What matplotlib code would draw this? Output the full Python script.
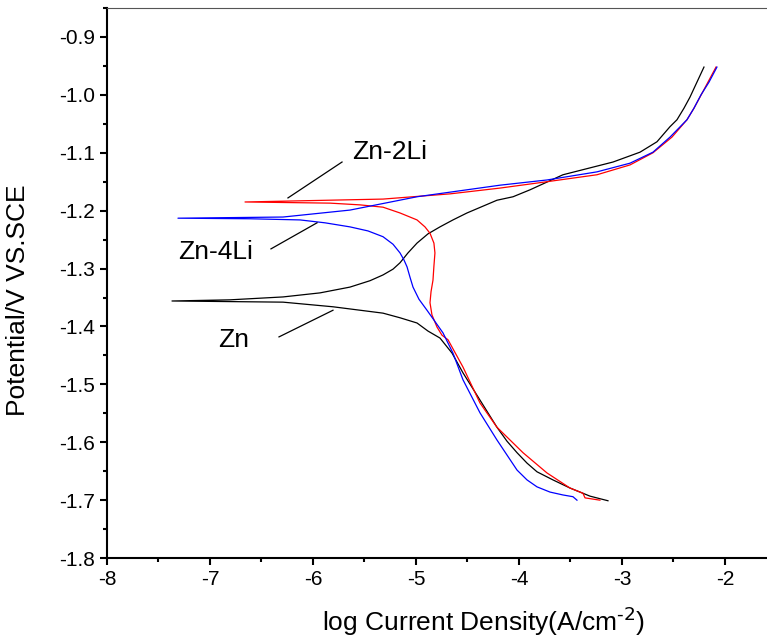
import matplotlib
matplotlib.use('Agg')
import matplotlib.pyplot as plt
from matplotlib.ticker import MultipleLocator, FormatStrFormatter

plt.rcParams['font.family'] = ['Liberation Sans', 'DejaVu Sans']
plt.rcParams['axes.unicode_minus'] = False
plt.rcParams['mathtext.default'] = 'regular'

# Zn: cathodic end -> Ecorr -> anodic end
zn_x = [-3.136, -3.311, -3.505, -3.670, -3.825, -3.922, -4.019, -4.117, -4.214,
        -4.379, -4.544, -4.650, -4.767,
        -4.883, -4.990, -5.155, -5.320, -5.806, -6.291, -7.369,
        -6.806, -6.291, -5.932, -5.641, -5.447, -5.320, -5.223, -5.155, -5.078,
        -4.990, -4.883, -4.767, -4.641, -4.505, -4.214, -4.058, -3.893,
        -3.573, -3.087, -2.825, -2.660, -2.534, -2.466, -2.398, -2.340, -2.272,
        -2.204]
zn_y = [-1.701, -1.693, -1.679, -1.665, -1.651, -1.636, -1.618, -1.598, -1.574,
        -1.527, -1.480, -1.446, -1.420,
        -1.408, -1.394, -1.385, -1.377, -1.366, -1.358, -1.356,
        -1.354, -1.349, -1.342, -1.332, -1.321, -1.311, -1.301, -1.290, -1.273,
        -1.256, -1.240, -1.228, -1.216, -1.204, -1.182, -1.176, -1.164,
        -1.138, -1.116, -1.099, -1.081, -1.055, -1.043, -1.023, -1.004, -0.978,
        -0.952]

# Zn-2Li
zn2_x = [-3.214, -3.359, -3.379, -3.505, -3.728, -3.961, -4.214, -4.379, -4.544,
         -4.689, -4.748, -4.796, -4.845, -4.864, -4.854, -4.835, -4.826, -4.816,
         -4.826, -4.864, -4.913, -4.990, -5.155, -5.320, -5.544, -5.835, -6.660,
         -6.126, -5.320, -4.670, -4.184, -3.728, -3.243, -2.922, -2.699, -2.515,
         -2.369, -2.301, -2.243, -2.165, -2.087]
zn2_y = [-1.700, -1.696, -1.688, -1.679, -1.653, -1.618, -1.574, -1.532, -1.470,
         -1.423, -1.415, -1.401, -1.380, -1.359, -1.340, -1.320, -1.296, -1.273,
         -1.256, -1.239, -1.228, -1.216, -1.204, -1.194, -1.190, -1.187, -1.185,
         -1.183, -1.180, -1.171, -1.161, -1.150, -1.138, -1.121, -1.100, -1.073,
         -1.043, -1.023, -1.004, -0.978, -0.952]

# Zn-4Li
zn4_x = [-3.437, -3.476, -3.573, -3.699, -3.825, -3.922, -4.019, -4.214, -4.379,
         -4.544, -4.641,
         -4.738, -4.893, -4.971, -5.029, -5.058, -5.087, -5.117, -5.155, -5.223,
         -5.320, -5.466, -5.641, -5.883, -6.126, -6.612, -7.311,
         -6.291, -5.641, -4.990, -4.184, -3.728, -3.243, -2.922, -2.699, -2.534,
         -2.369, -2.301, -2.233, -2.155, -2.078]
zn4_y = [-1.700, -1.694, -1.691, -1.686, -1.677, -1.665, -1.648, -1.596, -1.549,
         -1.492, -1.446,
         -1.411, -1.372, -1.353, -1.332, -1.315, -1.297, -1.285, -1.273, -1.258,
         -1.245, -1.235, -1.228, -1.221, -1.216, -1.214, -1.213,
         -1.211, -1.199, -1.176, -1.156, -1.147, -1.133, -1.118, -1.099, -1.073,
         -1.043, -1.023, -1.000, -0.978, -0.952]

labels = ['Zn-2Li', 'Zn-4Li', 'Zn']
label_xy = [(-5.62, -1.099), (-7.31, -1.271), (-6.92, -1.423)]
pointer_from = [(-5.718, -1.116), (-6.408, -1.266), (-6.330, -1.418)]
pointer_to = [(-6.243, -1.178), (-5.961, -1.221), (-5.806, -1.372)]

fig = plt.figure(figsize=(7.67, 6.40), dpi=100)
ax = fig.add_axes([0.1395, 0.128, 0.8605, 0.8595])

ax.plot(zn_x, zn_y, color='black', lw=0.9)
ax.plot(zn2_x, zn2_y, color='red', lw=0.9)
ax.plot(zn4_x, zn4_y, color='blue', lw=0.9)

for txt, (tx, ty), (x0, y0), (x1, y1) in zip(labels, label_xy, pointer_from, pointer_to):
    ax.text(tx, ty, txt, fontsize=19, ha='left', va='center')
    ax.plot([x0, x1], [y0, y1], color='black', lw=0.9)

ax.set_xlim(-8, -1.592)
ax.set_ylim(-1.8, -0.85)
ax.xaxis.set_major_locator(MultipleLocator(1))
ax.xaxis.set_minor_locator(MultipleLocator(0.5))
ax.yaxis.set_major_locator(MultipleLocator(0.1))
ax.yaxis.set_minor_locator(MultipleLocator(0.05))
ax.yaxis.set_major_formatter(FormatStrFormatter('%.1f'))

ax.spines['right'].set_visible(False)
ax.spines['top'].set_color('#555555')
ax.spines['top'].set_linewidth(0.8)
ax.spines['left'].set_linewidth(1.5)
ax.spines['bottom'].set_linewidth(1.5)
ax.tick_params(which='major', direction='out', length=5, width=1.5, labelsize=15)
ax.tick_params(which='minor', direction='out', length=3, width=1.5)
ax.tick_params(top=False, right=False, which='both')

ax.set_xlabel(r'log Current Density(A/cm$^{\text{-2}}$)', fontsize=19)
ax.set_ylabel('Potential/V VS.SCE', fontsize=19)
ax.xaxis.set_label_coords(0.57, -0.085)
ax.yaxis.set_label_coords(-0.117, 0.469)

fig.savefig('out.png', dpi=100)
